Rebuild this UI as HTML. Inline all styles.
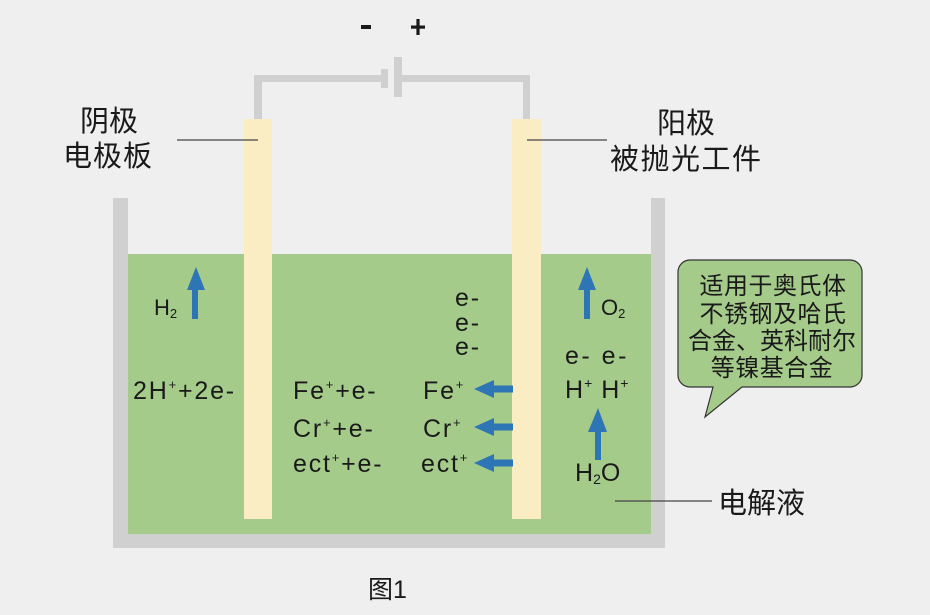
<!DOCTYPE html>
<html><head><meta charset="utf-8">
<style>
html,body{margin:0;padding:0;background:#efefef;}
svg{display:block;}
.t{font-family:"Liberation Sans","Noto Sans CJK SC",sans-serif;fill:#1a1a1a;}
.c{font-family:"Noto Sans CJK SC","WenQuanYi Zen Hei",sans-serif;fill:#1a1a1a;}
</style></head>
<body>
<svg width="930" height="615" viewBox="0 0 930 615" xmlns="http://www.w3.org/2000/svg">
<rect x="0" y="0" width="930" height="615" fill="#efefef"/>
<!-- signs -->
<rect x="361" y="25" width="10" height="4" fill="#1a1a1a"/>
<rect x="411" y="25.5" width="14" height="3.2" fill="#1a1a1a"/>
<rect x="416.4" y="19" width="3.2" height="16" fill="#1a1a1a"/>
<!-- wire -->
<g fill="#d0d0d0">
<rect x="254" y="75" width="127" height="7"/>
<rect x="254" y="75" width="8" height="46"/>
<rect x="402" y="75" width="128" height="7"/>
<rect x="523" y="75" width="7" height="46"/>
<rect x="381" y="69" width="7" height="19"/>
<rect x="394" y="57" width="8" height="40"/>
</g>
<!-- tank -->
<g fill="#d0d0d0">
<rect x="113" y="198" width="15" height="350"/>
<rect x="651" y="198" width="14" height="350"/>
<rect x="113" y="534" width="552" height="14"/>
</g>
<rect x="128" y="254" width="523" height="280" fill="#a5cb8b"/>
<!-- electrodes -->
<rect x="244" y="119" width="28" height="400" fill="#faecc3"/>
<rect x="512" y="119" width="29" height="400" fill="#faecc3"/>
<!-- leader lines -->
<g stroke="#444" stroke-width="1.2">
<line x1="177" y1="140" x2="258" y2="140"/>
<line x1="527" y1="140" x2="607" y2="140"/>
<line x1="615" y1="501" x2="712" y2="501"/>
</g>
<!-- labels -->
<text class="c" x="80" y="131" font-size="29">阴极</text>
<text class="c" x="63" y="166" font-size="29" letter-spacing="1">电极板</text>
<text class="c" x="657" y="133" font-size="29">阳极</text>
<text class="c" x="610" y="169" font-size="29" letter-spacing="1.5">被抛光工件</text>
<text class="c" x="718" y="513" font-size="29">电解液</text>
<text class="c" x="368" y="598" font-size="25">图<tspan class="t" font-family="Liberation Sans">1</tspan></text>
<!-- arrows -->
<g fill="#2e75b6">
<rect x="192" y="287" width="6" height="32"/>
<polygon points="187,290 196,267 205,290"/>
<rect x="584" y="287" width="6" height="32"/>
<polygon points="578,290 587,267 596,290"/>
<rect x="595" y="429" width="6" height="31"/>
<polygon points="588,432 598,408 607,432"/>
<rect x="492" y="385.5" width="21" height="7"/>
<polygon points="474,389 494,380 494,398"/>
<rect x="492" y="423.5" width="21" height="7"/>
<polygon points="474,427 494,418 494,436"/>
<rect x="492" y="459.5" width="21" height="7"/>
<polygon points="474,463 494,454 494,472"/>
</g>
<!-- chemistry text -->
<g class="t" font-size="25" letter-spacing="1.8">
<text x="154" y="315" font-size="22" letter-spacing="0">H<tspan font-size="13" dy="3">2</tspan></text>
<text x="601" y="315" font-size="22" letter-spacing="0">O<tspan font-size="13" dy="3">2</tspan></text>
<text x="133" y="399">2H<tspan font-size="13" dy="-10">+</tspan><tspan dy="10">+2e-</tspan></text>
<text x="293" y="399">Fe<tspan font-size="13" dy="-10">+</tspan><tspan dy="10">+e-</tspan></text>
<text x="293" y="437">Cr<tspan font-size="13" dy="-10">+</tspan><tspan dy="10">+e-</tspan></text>
<text x="293" y="472">ect<tspan font-size="13" dy="-10">+</tspan><tspan dy="10">+e-</tspan></text>
<text x="455" y="306">e-</text>
<text x="455" y="331">e-</text>
<text x="455" y="355">e-</text>
<text x="423" y="399">Fe<tspan font-size="13" dy="-10">+</tspan></text>
<text x="423" y="437">Cr<tspan font-size="13" dy="-10">+</tspan></text>
<text x="421" y="472">ect<tspan font-size="13" dy="-10">+</tspan></text>
<text x="565" y="364" letter-spacing="2.5">e-  e-</text>
<text x="565" y="398" letter-spacing="1">H<tspan font-size="14" dy="-10">+</tspan><tspan dy="10"> H</tspan><tspan font-size="14" dy="-10">+</tspan></text>
<text x="575" y="481" font-size="25" letter-spacing="0">H<tspan font-size="14" dy="3">2</tspan><tspan dy="-3">O</tspan></text>
</g>
<!-- bubble -->
<path d="M690,260 H850 A12,12 0 0 1 862,272 V375 A12,12 0 0 1 850,387 H742 L705,417 L713,387 H690 A12,12 0 0 1 678,375 V272 A12,12 0 0 1 690,260 Z" fill="#a5cb8b" stroke="#333" stroke-width="1.2"/>
<g class="c" font-size="24" text-anchor="middle">
<text x="773" y="294" letter-spacing="0.5">适用于奥氏体</text>
<text x="773" y="322" letter-spacing="0.5">不锈钢及哈氏</text>
<text x="772" y="349">合金、英科耐尔</text>
<text x="772" y="376" letter-spacing="0.5">等镍基合金</text>
</g>
</svg>
</body></html>
